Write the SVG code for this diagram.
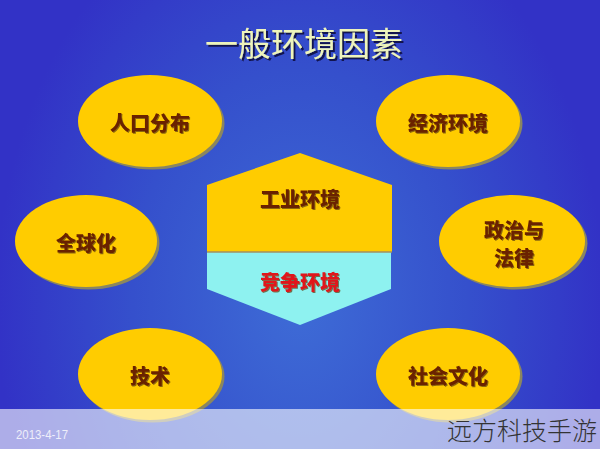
<svg xmlns="http://www.w3.org/2000/svg" width="600" height="449" viewBox="0 0 600 449">
<defs>
<radialGradient id="bg" cx="300" cy="300" r="380" gradientUnits="userSpaceOnUse" gradientTransform="translate(300 300) scale(0.8 1.1) translate(-300 -300)">
<stop offset="0" stop-color="#3e6cd6"/>
<stop offset="0.55" stop-color="#3550cc"/>
<stop offset="1" stop-color="#3232c6"/>
</radialGradient>
<filter id="tsh" x="-10%" y="-10%" width="120%" height="130%">
<feDropShadow dx="2" dy="2" stdDeviation="0.6" flood-color="#101040" flood-opacity="0.9"/>
</filter>
<filter id="lsh" x="-10%" y="-20%" width="120%" height="140%">
<feDropShadow dx="1" dy="1" stdDeviation="0.4" flood-color="#5a3a10" flood-opacity="0.7"/>
</filter>
</defs>
<style>
.ell{fill:#ffcc00}
.sh{fill:#8a8660}
.lbl{font-family:"Noto Sans CJK SC","Noto Sans",sans-serif;font-weight:900;font-size:20px;fill:#6b2000;text-anchor:middle;dominant-baseline:central}
</style>
<rect x="0" y="0" width="600" height="449" fill="url(#bg)"/>
<text x="304" y="42" font-family="Noto Sans CJK SC, sans-serif" font-size="33" fill="#eef4bc" text-anchor="middle" dominant-baseline="central" filter="url(#tsh)">一般环境因素</text>

<g id="node-renkou"><ellipse class="sh" cx="152.5" cy="123.5" rx="72" ry="46"/><ellipse class="ell" cx="150" cy="121" rx="72" ry="46"/><text class="lbl" x="150" y="122" filter="url(#lsh)">人口分布</text></g>
<g id="node-jingji"><ellipse class="sh" cx="450.5" cy="123.5" rx="72" ry="46"/><ellipse class="ell" cx="448" cy="121" rx="72" ry="46"/><text class="lbl" x="448" y="122" filter="url(#lsh)">经济环境</text></g>
<g id="node-quanqiu"><ellipse class="sh" cx="88.5" cy="243.5" rx="71" ry="46"/><ellipse class="ell" cx="86" cy="241" rx="71" ry="46"/><text class="lbl" x="86" y="242" filter="url(#lsh)">全球化</text></g>
<g id="node-zhengzhi"><ellipse class="sh" cx="514.5" cy="243.5" rx="73" ry="46"/><ellipse class="ell" cx="512" cy="241" rx="73" ry="46"/><text class="lbl" x="514" y="229" filter="url(#lsh)">政治与</text><text class="lbl" x="514" y="257" filter="url(#lsh)">法律</text></g>
<g id="node-jishu"><ellipse class="sh" cx="152.5" cy="376.5" rx="72" ry="46"/><ellipse class="ell" cx="150" cy="374" rx="72" ry="46"/><text class="lbl" x="150" y="375" filter="url(#lsh)">技术</text></g>
<g id="node-shehui"><ellipse class="sh" cx="450.5" cy="376.5" rx="72" ry="46"/><ellipse class="ell" cx="448" cy="374" rx="72" ry="46"/><text class="lbl" x="448" y="375" filter="url(#lsh)">社会文化</text></g>

<g id="node-center">
<polygon points="300,153 392,185 392,252 207,252 207,185" fill="#ffcc00"/>
<polygon points="207,252 391,252 391,289 300,325 207,289" fill="#8ef2f0"/>
<line x1="207" y1="252" x2="392" y2="252" stroke="#a09060" stroke-width="1.5"/>
<text class="lbl" x="300" y="198" filter="url(#lsh)">工业环境</text>
<text class="lbl" x="300" y="281" style="fill:#e0161a" filter="url(#lsh)">竞争环境</text>
</g>
<g id="connectors"></g>

<rect x="0" y="409" width="600" height="40" fill="#ffffff" fill-opacity="0.6"/>
<text x="16" y="439" font-family="Liberation Sans Narrow, Liberation Sans, sans-serif" font-size="13" fill="#eeeefa" textLength="52" lengthAdjust="spacingAndGlyphs">2013-4-17</text>
<text x="447" y="440" font-family="Noto Sans CJK SC, sans-serif" font-weight="300" font-size="25" fill="#333333">远方科技手游</text>
</svg>
